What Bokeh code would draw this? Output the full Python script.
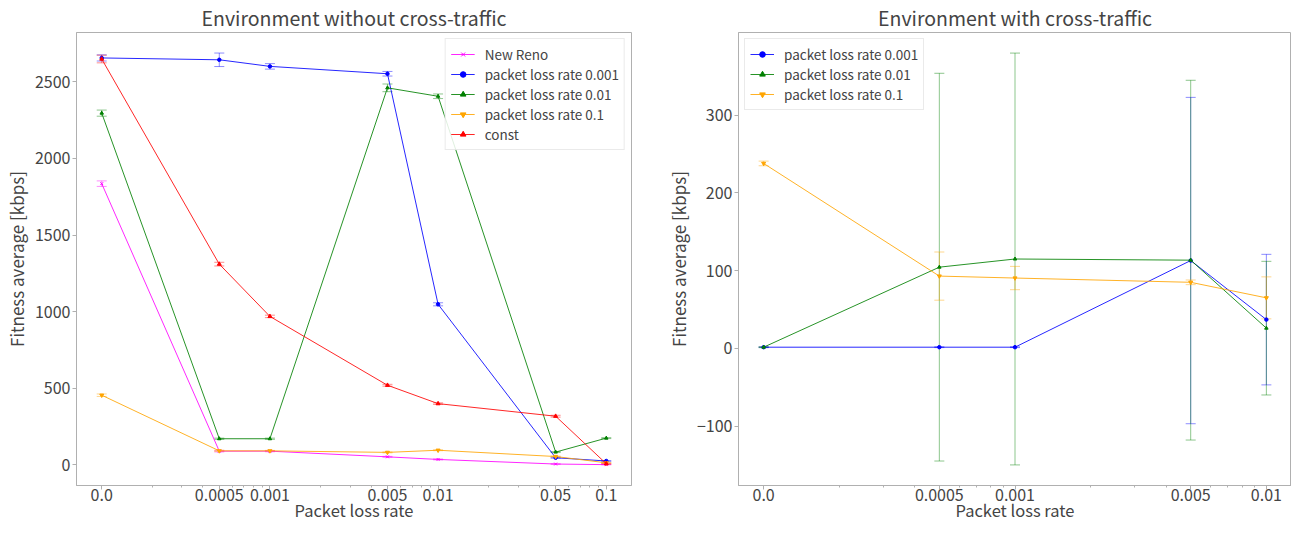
from bokeh.plotting import figure
from bokeh.models import (Range1d, FixedTicker, ColumnDataSource, Whisker, TeeHead, Legend)
from bokeh.layouts import row
from bokeh.embed import file_html
from bokeh.resources import INLINE

# ---------------- data ----------------
rates_left = [0.0, 0.0005, 0.001, 0.005, 0.01, 0.05, 0.1]
rates_right = [0.0, 0.0005, 0.001, 0.005, 0.01]

left_tick_labels = ["0.0", "0.0005", "0.001", "0.005", "0.01", "0.05", "0.1"]
right_tick_labels = ["0.0", "0.0005", "0.001", "0.005", "0.01"]

# Environment without cross-traffic
newreno_mean = [1835, 90, 90, 53, 36, 6, 2]
newreno_err = [18, 5, 4, 3, 3, 2, 1]
p001_mean = [2655, 2643, 2600, 2552, 1048, 47, 26]
p001_err = [20, 44, 18, 15, 10, 3, 3]
p01_mean = [2295, 171, 171, 2460, 2405, 84, 175]
p01_err = [20, 4, 4, 25, 15, 3, 3]
p1_mean = [455, 92, 92, 82, 96, 55, 14]
p1_err = [8, 4, 3, 3, 3, 3, 3]
const_mean = [2648, 1310, 969, 520, 400, 318, 8]
const_err = [25, 12, 8, 6, 5, 6, 3]

# Environment with cross-traffic
r001_mean = [1.5, 1.5, 1.5, 113, 37]
r001_err = [0.5, 0.5, 0.5, 210, 84]
r01_mean = [1.5, 104.5, 115, 113.5, 26]
r01_err = [0.5, 249.5, 265, 231.5, 86]
r1_mean = [238, 93, 90.5, 85, 65]
r1_err = [3, 31, 15, 3, 27]

left_yticks = [0, 500, 1000, 1500, 2000, 2500]
right_yticks = [-100, 0, 100, 200, 300]

# ---------------- styling helpers ----------------
FONT = "Noto Sans CJK JP"
ZERO_AT = 1e-4  # where rate 0.0 is drawn on the log axis
AX = "#b0b0b0"


def xpos(vals):
    return [v if v > 0 else ZERO_AT for v in vals]


def minor_ticks(lo_exp, hi_exp):
    out = []
    for e in range(lo_exp, hi_exp):
        for m in range(2, 10):
            out.append(m * 10.0 ** e)
    return out


def make_fig(title, xr, yr, fwidth, mbl, mbr, xticks_vals, xlabels, yticks, lo_exp, hi_exp):
    p = figure(frame_width=fwidth, height=524, x_axis_type="log", x_range=xr, y_range=yr,
               output_backend="svg", toolbar_location=None,
               min_border_left=mbl, min_border_right=mbr, min_border_top=0,
               min_border_bottom=0)
    p.title.text = title
    p.title.align = "center"
    p.title.text_font = FONT
    p.title.text_font_size = "19.5px"
    p.title.text_font_style = "normal"
    p.title.standoff = 1
    p.outline_line_color = AX
    p.grid.visible = False
    tick_pos = xpos(xticks_vals)
    p.xaxis.ticker = FixedTicker(ticks=tick_pos, minor_ticks=minor_ticks(lo_exp, hi_exp))
    p.xaxis.major_label_overrides = {t: l for t, l in zip(tick_pos, xlabels)}
    p.yaxis.ticker = FixedTicker(ticks=yticks)
    p.yaxis.major_label_overrides = {t: (("\u2212" + str(-t)) if t < 0 else str(t)) for t in yticks}
    for ax in (p.xaxis, p.yaxis):
        ax.axis_line_color = AX
        ax.major_tick_line_color = AX
        ax.minor_tick_line_color = AX
        ax.major_tick_in = 0
        ax.major_tick_out = 4
        ax.minor_tick_in = 0
        ax.minor_tick_out = 2
        ax.major_label_text_font = FONT
        ax.major_label_text_font_size = "16px"
        ax.axis_label_text_font = FONT
        ax.axis_label_text_font_size = "17px"
        ax.axis_label_text_font_style = "normal"
    p.xaxis.axis_label_text_font_size = "16.5px"
    p.xaxis.major_label_standoff = -1
    p.xaxis.axis_label_standoff = -6
    p.yaxis.major_label_standoff = 2
    p.yaxis.axis_label_standoff = 3
    p.yaxis.minor_tick_line_color = None
    p.xaxis.axis_label = "Packet loss rate"
    p.yaxis.axis_label = "Fitness average [kbps]"
    return p


def add_series(p, rates, mean, err, color, marker, msize, label, items):
    x = xpos(rates)
    src = ColumnDataSource(dict(x=x, y=mean,
                                lo=[m - e for m, e in zip(mean, err)],
                                hi=[m + e for m, e in zip(mean, err)]))
    w = Whisker(source=src, base="x", lower="lo", upper="hi",
                line_color=color, line_alpha=0.45, line_width=1,
                upper_head=TeeHead(size=10, line_color=color, line_alpha=0.45, line_width=1),
                lower_head=TeeHead(size=10, line_color=color, line_alpha=0.45, line_width=1))
    p.add_layout(w)
    ln = p.line("x", "y", source=src, line_color=color, line_width=1, line_alpha=0.85)
    sc = p.scatter("x", "y", source=src, marker=marker, size=msize,
                   line_color=color, fill_color=color)
    items.append((label, [ln, sc]))


def style_legend(p, items, loc):
    lg = Legend(items=items, location=loc)
    lg.label_text_font = FONT
    lg.label_text_font_size = "13.5px"
    lg.label_height = 14
    lg.glyph_height = 14
    lg.glyph_width = 24
    lg.spacing = -3
    lg.padding = 5
    lg.margin = 6
    lg.border_line_color = "#d6d6d6"
    lg.background_fill_alpha = 0.85
    lg.label_standoff = 10
    p.add_layout(lg)


# ---------------- left figure ----------------
p1 = make_fig("Environment without cross-traffic",
              Range1d(10 ** -4.15, 10 ** -0.85), Range1d(-134, 2821),
              555, 63, 24, rates_left, left_tick_labels, left_yticks, -4, -1)
items1 = []
add_series(p1, rates_left, newreno_mean, newreno_err, "magenta", "x", 4, "New Reno", items1)
add_series(p1, rates_left, p001_mean, p001_err, "blue", "circle", 3.5, "packet loss rate 0.001", items1)
add_series(p1, rates_left, p01_mean, p01_err, "green", "triangle", 3.5, "packet loss rate 0.01", items1)
add_series(p1, rates_left, p1_mean, p1_err, "orange", "inverted_triangle", 4, "packet loss rate 0.1", items1)
add_series(p1, rates_left, const_mean, const_err, "red", "triangle", 4, "const", items1)
style_legend(p1, items1, "top_right")

# ---------------- right figure ----------------
p2 = make_fig("Environment with cross-traffic",
              Range1d(10 ** -4.1, 10 ** -1.9), Range1d(-176.5, 406.5),
              553, 83, 0, rates_right, right_tick_labels, right_yticks, -4, -2)
items2 = []
add_series(p2, rates_right, r001_mean, r001_err, "blue", "circle", 3.5, "packet loss rate 0.001", items2)
add_series(p2, rates_right, r01_mean, r01_err, "green", "triangle", 3.5, "packet loss rate 0.01", items2)
add_series(p2, rates_right, r1_mean, r1_err, "orange", "inverted_triangle", 4, "packet loss rate 0.1", items2)
style_legend(p2, items2, "top_left")

layout = row(p1, p2)
open("out.html", "w").write(file_html(layout, INLINE))
